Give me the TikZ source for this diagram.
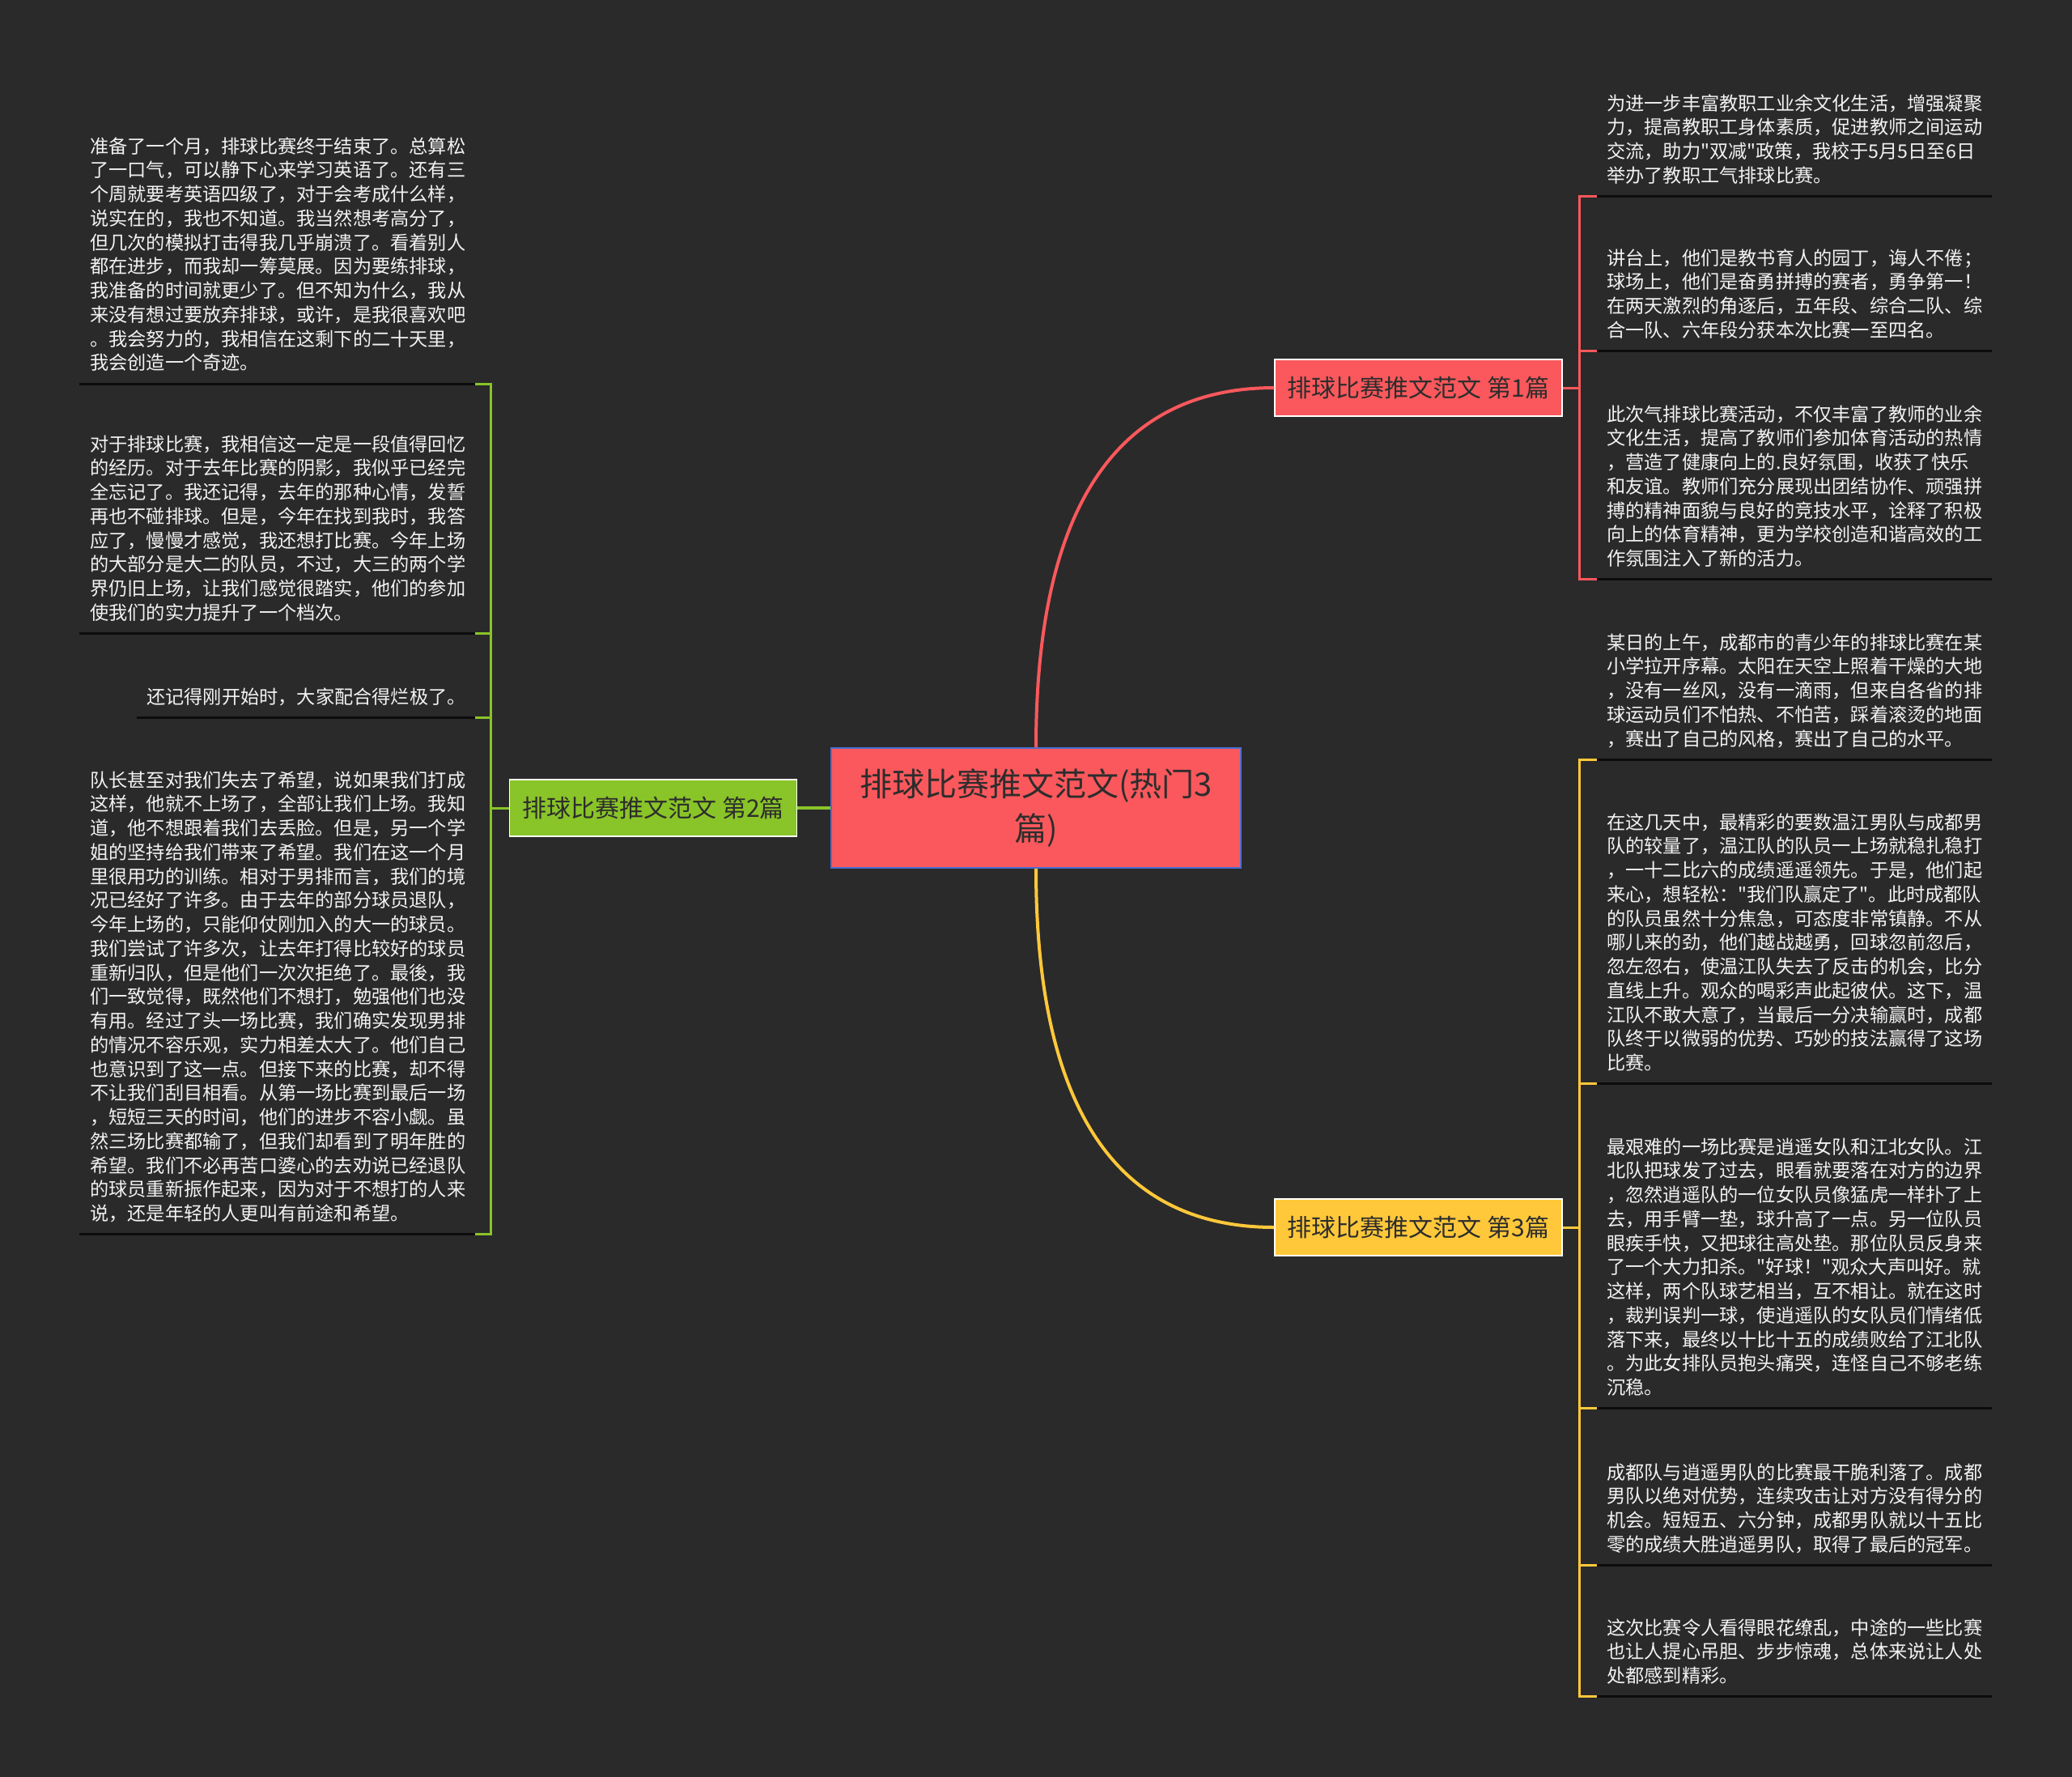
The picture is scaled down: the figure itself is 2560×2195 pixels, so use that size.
\documentclass[tikz,border=0pt]{standalone}
\usepackage{fontspec}
\setmainfont{Noto Sans CJK SC}[Ligatures=TeXOff]
\definecolor{bg}{RGB}{42,42,42}
\definecolor{cred}{RGB}{250,88,92}
\definecolor{cgreen}{RGB}{137,196,40}
\definecolor{cyellow}{RGB}{255,200,58}
\definecolor{cblue}{RGB}{75,110,210}
\definecolor{dtext}{RGB}{45,45,45}
\definecolor{ltext}{RGB}{242,242,242}
\definecolor{ulcol}{RGB}{12,12,12}
\newcommand{\fstln}{\rule{0pt}{22pt}}
\newcommand{\lstln}{\rule[-17.2pt]{0pt}{1pt}}
\begin{document}
\begin{tikzpicture}[x=1pt,y=-1pt,
  rootbox/.style={rectangle,fill=cred,draw=cblue,line width=2pt,minimum width=506pt,minimum height=148pt,inner sep=0pt,align=center,text=dtext,font=\fontsize{40pt}{55pt}\selectfont},
  branchbox/.style={rectangle,draw=white,line width=1.5pt,minimum width=355pt,minimum height=70pt,inner sep=0pt,text=dtext,font=\fontsize{30pt}{36pt}\selectfont},
  leaf/.style={anchor=north west,inner xsep=12pt,inner ysep=0pt,text width=464pt,align=left,text=ltext,font=\fontsize{23.2pt}{29.75pt}\selectfont},
  lleaf/.style={leaf,inner xsep=13pt,text width=463pt},
  uline/.style={draw=ulcol,line width=3pt},
  conn/.style={line width=3pt},
  curve/.style={line width=4pt}]
\fill[bg] (0,0) rectangle (2560,2195);
\useasboundingbox (0,0) rectangle (2560,2195);

% root and branches
\node[rootbox] (c) at (1280,998) {排球比赛推文范文(热门3\\篇)};
\node[branchbox,fill=cred] (b1) at (1752.5,479) {排球比赛推文范文 第1篇};
\node[branchbox,fill=cgreen] (b2) at (807,998) {排球比赛推文范文 第2篇};
\node[branchbox,fill=cyellow] (b3) at (1752.5,1516) {排球比赛推文范文 第3篇};

\draw[curve,cred] (c.north) .. controls +(0,-324) and +(-175,0) .. (b1.west);
\draw[curve,cyellow] (c.south) .. controls +(0,324) and +(-175,0) .. (b3.west);
\draw[curve,cgreen] (c.west) -- (b2.east);

\coordinate (k1) at ([xshift=21pt]b1.east);
\coordinate (k3) at ([xshift=21pt]b3.east);
\coordinate (k2) at ([xshift=-22pt]b2.west);

% branch 1 leaves
\node[leaf] (l1a) at (1973,113.8) {\fstln 为进一步丰富教职工业余文化生活，增强凝聚\\力，提高教职工身体素质，促进教师之间运动\\交流，助力"双减"政策，我校于5月5日至6日\\举办了教职工气排球比赛。\lstln};
\node[leaf] (l1b) at (1973,304.8) {\fstln 讲台上，他们是教书育人的园丁，诲人不倦；\\球场上，他们是奋勇拼搏的赛者，勇争第一！\\在两天激烈的角逐后，五年段、综合二队、综\\合一队、六年段分获本次比赛一至四名。\lstln};
\node[leaf] (l1c) at (1973,497.8) {\fstln 此次气排球比赛活动，不仅丰富了教师的业余\\文化生活，提高了教师们参加体育活动的热情\\，营造了健康向上的.良好氛围，收获了快乐\\和友谊。教师们充分展现出团结协作、顽强拼\\搏的精神面貌与良好的竞技水平，诠释了积极\\向上的体育精神，更为学校创造和谐高效的工\\作氛围注入了新的活力。\lstln};

% branch 3 leaves
\node[leaf] (l3a) at (1973,779.8) {\fstln 某日的上午，成都市的青少年的排球比赛在某\\小学拉开序幕。太阳在天空上照着干燥的大地\\，没有一丝风，没有一滴雨，但来自各省的排\\球运动员们不怕热、不怕苦，踩着滚烫的地面\\，赛出了自己的风格，赛出了自己的水平。\lstln};
\node[leaf] (l3b) at (1973,1001.8) {\fstln 在这几天中，最精彩的要数温江男队与成都男\\队的较量了，温江队的队员一上场就稳扎稳打\\，一十二比六的成绩遥遥领先。于是，他们起\\来心，想轻松："我们队赢定了"。此时成都队\\的队员虽然十分焦急，可态度非常镇静。不从\\哪儿来的劲，他们越战越勇，回球忽前忽后，\\忽左忽右，使温江队失去了反击的机会，比分\\直线上升。观众的喝彩声此起彼伏。这下，温\\江队不敢大意了，当最后一分决输赢时，成都\\队终于以微弱的优势、巧妙的技法赢得了这场\\比赛。\lstln};
\node[leaf] (l3c) at (1973,1402.8) {\fstln 最艰难的一场比赛是逍遥女队和江北女队。江\\北队把球发了过去，眼看就要落在对方的边界\\，忽然逍遥队的一位女队员像猛虎一样扑了上\\去，用手臂一垫，球升高了一点。另一位队员\\眼疾手快，又把球往高处垫。那位队员反身来\\了一个大力扣杀。"好球！"观众大声叫好。就\\这样，两个队球艺相当，互不相让。就在这时\\，裁判误判一球，使逍遥队的女队员们情绪低\\落下来，最终以十比十五的成绩败给了江北队\\。为此女排队员抱头痛哭，连怪自己不够老练\\沉稳。\lstln};
\node[leaf] (l3d) at (1973,1804.8) {\fstln 成都队与逍遥男队的比赛最干脆利落了。成都\\男队以绝对优势，连续攻击让对方没有得分的\\机会。短短五、六分钟，成都男队就以十五比\\零的成绩大胜逍遥男队，取得了最后的冠军。\lstln};
\node[leaf] (l3e) at (1973,1996.8) {\fstln 这次比赛令人看得眼花缭乱，中途的一些比赛\\也让人提心吊胆、步步惊魂，总体来说让人处\\处都感到精彩。\lstln};

% branch 2 leaves
\node[lleaf] (l2a) at (98,166.8) {\fstln 准备了一个月，排球比赛终于结束了。总算松\\了一口气，可以静下心来学习英语了。还有三\\个周就要考英语四级了，对于会考成什么样，\\说实在的，我也不知道。我当然想考高分了，\\但几次的模拟打击得我几乎崩溃了。看着别人\\都在进步，而我却一筹莫展。因为要练排球，\\我准备的时间就更少了。但不知为什么，我从\\来没有想过要放弃排球，或许，是我很喜欢吧\\。我会努力的，我相信在这剩下的二十天里，\\我会创造一个奇迹。\lstln};
\node[lleaf] (l2b) at (98,534.8) {\fstln 对于排球比赛，我相信这一定是一段值得回忆\\的经历。对于去年比赛的阴影，我似乎已经完\\全忘记了。我还记得，去年的那种心情，发誓\\再也不碰排球。但是，今年在找到我时，我答\\应了，慢慢才感觉，我还想打比赛。今年上场\\的大部分是大二的队员，不过，大三的两个学\\界仍旧上场，让我们感觉很踏实，他们的参加\\使我们的实力提升了一个档次。\lstln};
\node[leaf,text width=394pt] (l2c) at (169,846.8) {\fstln 还记得刚开始时，大家配合得烂极了。\lstln};
\node[lleaf] (l2d) at (98,949.8) {\fstln 队长甚至对我们失去了希望，说如果我们打成\\这样，他就不上场了，全部让我们上场。我知\\道，他不想跟着我们去丢脸。但是，另一个学\\姐的坚持给我们带来了希望。我们在这一个月\\里很用功的训练。相对于男排而言，我们的境\\况已经好了许多。由于去年的部分球员退队，\\今年上场的，只能仰仗刚加入的大一的球员。\\我们尝试了许多次，让去年打得比较好的球员\\重新归队，但是他们一次次拒绝了。最後，我\\们一致觉得，既然他们不想打，勉强他们也没\\有用。经过了头一场比赛，我们确实发现男排\\的情况不容乐观，实力相差太大了。他们自己\\也意识到了这一点。但接下来的比赛，却不得\\不让我们刮目相看。从第一场比赛到最后一场\\，短短三天的时间，他们的进步不容小觑。虽\\然三场比赛都输了，但我们却看到了明年胜的\\希望。我们不必再苦口婆心的去劝说已经退队\\的球员重新振作起来，因为对于不想打的人来\\说，还是年轻的人更叫有前途和希望。\lstln};

% underlines
\foreach \n in {l1a,l1b,l1c,l3a,l3b,l3c,l3d,l3e,l2a,l2b,l2c,l2d}
  \draw[uline] (\n.south west) -- (\n.south east);

% brackets and ticks
\draw[conn,cred] (b1.east) -- (k1);
\draw[conn,cred] (l1a.south west) -- (l1a.south west -| k1) -- (l1c.south west -| k1) -- (l1c.south west);
\draw[conn,cred] (l1b.south west -| k1) -- (l1b.south west);

\draw[conn,cyellow] (b3.east) -- (k3);
\draw[conn,cyellow] (l3a.south west) -- (l3a.south west -| k3) -- (l3e.south west -| k3) -- (l3e.south west);
\foreach \n in {l3b,l3c,l3d}
  \draw[conn,cyellow] (\n.south west -| k3) -- (\n.south west);

\draw[conn,cgreen] (b2.west) -- (k2);
\draw[conn,cgreen] (l2a.south east) -- (l2a.south east -| k2) -- (l2d.south east -| k2) -- (l2d.south east);
\foreach \n in {l2b,l2c}
  \draw[conn,cgreen] (\n.south east -| k2) -- (\n.south east);
\end{tikzpicture}
\end{document}
